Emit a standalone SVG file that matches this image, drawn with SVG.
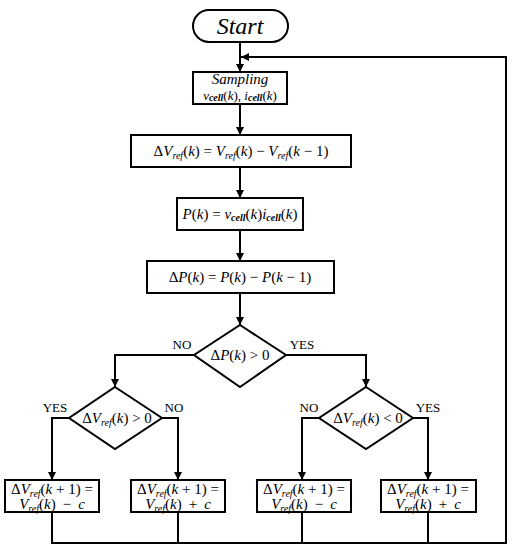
<svg xmlns="http://www.w3.org/2000/svg" width="512" height="550" viewBox="0 0 512 550">
<defs>
<marker id="ah" viewBox="0 0 8 8" refX="8" refY="4" markerWidth="8" markerHeight="8" markerUnits="userSpaceOnUse" orient="auto">
<path d="M0,0 L8,4 L0,8 z" fill="#000"/>
</marker>
<style>
.box{fill:#fff;stroke:#000;stroke-width:2}
.ln{fill:none;stroke:#000;stroke-width:2}
.ar{fill:none;stroke:#000;stroke-width:2;marker-end:url(#ah)}
.t{font-family:"Liberation Serif","DejaVu Serif",serif;font-size:15px;fill:#000;text-anchor:middle}
.i{font-style:italic}
.s{font-size:10px;font-style:italic}
.b{font-size:10px;font-style:italic;font-weight:bold}
.lb{font-family:"Liberation Serif","DejaVu Serif",serif;font-size:13px;fill:#000;text-anchor:middle}
</style>
</defs>
<rect width="512" height="550" fill="#fff"/>
<g id="connectors">
<line class="ar" x1="240" y1="42" x2="240" y2="72"/>
<polyline class="ar" points="52,512 52,543 506,543 506,57 241,57"/>
<line class="ln" x1="178" y1="512" x2="178" y2="543"/>
<line class="ln" x1="302" y1="512" x2="302" y2="543"/>
<line class="ln" x1="428" y1="512" x2="428" y2="543"/>
<line class="ar" x1="240" y1="104" x2="240" y2="135"/>
<line class="ar" x1="240" y1="167" x2="240" y2="198"/>
<line class="ar" x1="240" y1="230" x2="240" y2="261"/>
<line class="ar" x1="240" y1="293" x2="240" y2="325"/>
<polyline class="ar" points="194,355 115,355 115,387"/>
<polyline class="ar" points="286,355 366,355 366,387"/>
<polyline class="ar" points="69,418 52,418 52,480"/>
<polyline class="ar" points="162,418 178,418 178,480"/>
<polyline class="ar" points="319,418 302,418 302,480"/>
<polyline class="ar" points="413,418 428,418 428,480"/>
<text class="lb" x="182" y="349">NO</text>
<text class="lb" x="302" y="349">YES</text>
<text class="lb" x="55" y="412">YES</text>
<text class="lb" x="174" y="412">NO</text>
<text class="lb" x="309" y="412">NO</text>
<text class="lb" x="428" y="412">YES</text>
</g>
<g id="start">
<rect class="box" x="193" y="10" width="95" height="32" rx="16"/>
<text class="t i" x="240" y="34" style="font-size:24px">Start</text>
</g>
<g id="sampling">
<rect class="box" x="193" y="72" width="94" height="32"/>
<text class="t i" x="240" y="84" style="font-size:15px">Sampling</text>
<text class="t" x="240" y="100" style="font-size:13px"><tspan class="i">v</tspan><tspan class="b" dy="1">cell</tspan><tspan dy="-1">(</tspan><tspan class="i">k</tspan>), <tspan class="i">i</tspan><tspan class="b" dy="1">cell</tspan><tspan dy="-1">(</tspan><tspan class="i">k</tspan>)</text>
</g>
<g id="dvref">
<rect class="box" x="131" y="135" width="220" height="32"/>
<text class="t" x="241" y="156">Δ<tspan class="i">V</tspan><tspan class="s" dy="3">ref</tspan><tspan dy="-3">(</tspan><tspan class="i">k</tspan>) = <tspan class="i">V</tspan><tspan class="s" dy="3">ref</tspan><tspan dy="-3">(</tspan><tspan class="i">k</tspan>) − <tspan class="i">V</tspan><tspan class="s" dy="3">ref</tspan><tspan dy="-3">(</tspan><tspan class="i">k</tspan> − 1)</text>
</g>
<g id="power">
<rect class="box" x="177" y="198" width="126" height="32"/>
<text class="t" x="240" y="219"><tspan class="i">P</tspan>(<tspan class="i">k</tspan>) = <tspan class="i">v</tspan><tspan class="b" dy="2">cell</tspan><tspan dy="-2">(</tspan><tspan class="i">k</tspan>)<tspan class="i">i</tspan><tspan class="b" dy="2">cell</tspan><tspan dy="-2">(</tspan><tspan class="i">k</tspan>)</text>
</g>
<g id="dp">
<rect class="box" x="147" y="261" width="187" height="32"/>
<text class="t" x="240" y="282">Δ<tspan class="i">P</tspan>(<tspan class="i">k</tspan>) = <tspan class="i">P</tspan>(<tspan class="i">k</tspan>) − <tspan class="i">P</tspan>(<tspan class="i">k</tspan> − 1)</text>
</g>
<g id="dec1">
<polygon class="box" points="240,325 286,355 240,387 194,355"/>
<text class="t" x="240" y="360">Δ<tspan class="i">P</tspan>(<tspan class="i">k</tspan>) &gt; 0</text>
</g>
<g id="dec2">
<polygon class="box" points="115,387 162,418 115,449 69,418"/>
<text class="t" x="117" y="423">Δ<tspan class="i">V</tspan><tspan class="s" dy="3">ref</tspan><tspan dy="-3">(</tspan><tspan class="i">k</tspan>) &gt; 0</text>
</g>
<g id="dec3">
<polygon class="box" points="366,387 413,418 366,449 319,418"/>
<text class="t" x="368" y="423">Δ<tspan class="i">V</tspan><tspan class="s" dy="3">ref</tspan><tspan dy="-3">(</tspan><tspan class="i">k</tspan>) &lt; 0</text>
</g>
<g id="box1">
<rect class="box" x="5" y="480" width="94" height="32"/>
<text class="t" x="52" y="494">Δ<tspan class="i">V</tspan><tspan class="s" dy="3">ref</tspan><tspan dy="-3">(</tspan><tspan class="i">k</tspan> + 1) =</text>
<text class="t" x="52" y="509"><tspan class="i">V</tspan><tspan class="s" dy="3">ref</tspan><tspan dy="-3">(</tspan><tspan class="i">k</tspan>)<tspan dx="7">−</tspan><tspan class="i" dx="7">c</tspan></text>
</g>
<g id="box2">
<rect class="box" x="131" y="480" width="94" height="32"/>
<text class="t" x="178" y="494">Δ<tspan class="i">V</tspan><tspan class="s" dy="3">ref</tspan><tspan dy="-3">(</tspan><tspan class="i">k</tspan> + 1) =</text>
<text class="t" x="178" y="509"><tspan class="i">V</tspan><tspan class="s" dy="3">ref</tspan><tspan dy="-3">(</tspan><tspan class="i">k</tspan>)<tspan dx="7">+</tspan><tspan class="i" dx="7">c</tspan></text>
</g>
<g id="box3">
<rect class="box" x="257" y="480" width="94" height="32"/>
<text class="t" x="304" y="494">Δ<tspan class="i">V</tspan><tspan class="s" dy="3">ref</tspan><tspan dy="-3">(</tspan><tspan class="i">k</tspan> + 1) =</text>
<text class="t" x="304" y="509"><tspan class="i">V</tspan><tspan class="s" dy="3">ref</tspan><tspan dy="-3">(</tspan><tspan class="i">k</tspan>)<tspan dx="7">−</tspan><tspan class="i" dx="7">c</tspan></text>
</g>
<g id="box4">
<rect class="box" x="381" y="480" width="95" height="32"/>
<text class="t" x="428" y="494">Δ<tspan class="i">V</tspan><tspan class="s" dy="3">ref</tspan><tspan dy="-3">(</tspan><tspan class="i">k</tspan> + 1) =</text>
<text class="t" x="428" y="509"><tspan class="i">V</tspan><tspan class="s" dy="3">ref</tspan><tspan dy="-3">(</tspan><tspan class="i">k</tspan>)<tspan dx="7">+</tspan><tspan class="i" dx="7">c</tspan></text>
</g>
</svg>
